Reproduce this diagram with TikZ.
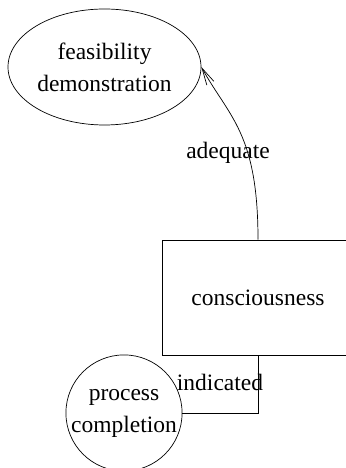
\documentclass[tikz,border=0pt]{standalone}
\usepackage{fontspec}
\setmainfont{Liberation Serif}
\usetikzlibrary{shapes.geometric,arrows.meta}
\begin{document}
\begin{tikzpicture}[x=1pt,y=1pt,
  every node/.style={font=\fontsize{23.5}{32}\selectfont},
  nodeline/.style={draw, line width=0.7pt, inner sep=0pt, align=center},
  edgeline/.style={line width=0.7pt},
  lbl/.style={inner sep=0pt}]
\useasboundingbox (0,0) rectangle (345,468);
\node[nodeline, ellipse, minimum width=193pt, minimum height=116pt] (f) at (104.5,401) {feasibility\\demonstration};
\node[nodeline, rectangle, minimum width=192pt, minimum height=115pt] (c) at (258,170.5) {consciousness};
\node[nodeline, circle, minimum size=116pt] (p) at (124,55) {process\\completion};
\coordinate (c1) at (258,335);
\coordinate (c2) at (229,351);
\draw[edgeline, -{Straight Barb[length=17pt,width=8pt]}] (c.north) .. controls (c1) and (c2) .. (f.east);
\draw[edgeline] (c.south) |- (p);
\node[lbl] (la) at (228,315) {adequate};
\node[lbl] (li) at (220,86) {indicated};
\end{tikzpicture}
\end{document}
